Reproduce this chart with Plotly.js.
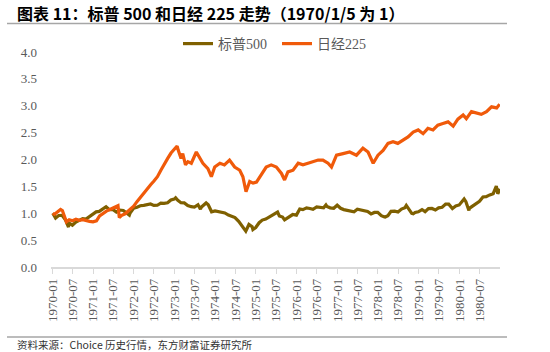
<!DOCTYPE html>
<html>
<head>
<meta charset="utf-8">
<script src="https://cdn.plot.ly/plotly-3.0.1.min.js"></script>
<style>html,body{margin:0;padding:0;background:#fff;}#chart{width:550px;height:352px;}</style>
</head>
<body>
<div id="chart"></div>
<script>
// ---- data ----
var seriesNames = ['标普500', '日经225'];

var spDates = ['1970-01-05','1970-01-30','1970-02-27','1970-03-31','1970-04-30','1970-05-26','1970-05-29','1970-06-30','1970-07-31','1970-08-31','1970-09-30','1970-10-30','1970-11-30','1970-12-31',
'1971-01-29','1971-02-26','1971-03-31','1971-04-28','1971-05-28','1971-06-30','1971-07-30','1971-08-31','1971-09-30','1971-10-29','1971-11-23','1971-11-30','1971-12-31',
'1972-01-31','1972-02-29','1972-03-31','1972-04-28','1972-05-31','1972-06-30','1972-07-31','1972-08-31','1972-09-29','1972-10-31','1972-11-30','1972-12-29',
'1973-01-11','1973-01-31','1973-02-28','1973-03-30','1973-04-30','1973-05-31','1973-06-29','1973-07-31','1973-08-22','1973-08-31','1973-09-28','1973-10-12','1973-10-31','1973-11-30','1973-12-31',
'1974-01-31','1974-02-28','1974-03-29','1974-04-30','1974-05-31','1974-06-28','1974-07-31','1974-08-30','1974-09-30','1974-10-03','1974-10-31','1974-11-29','1974-12-06','1974-12-31',
'1975-01-31','1975-02-28','1975-03-31','1975-04-30','1975-05-30','1975-06-30','1975-07-15','1975-07-31','1975-08-29','1975-09-16','1975-09-30','1975-10-31','1975-11-28','1975-12-31',
'1976-01-30','1976-02-27','1976-03-31','1976-04-30','1976-05-28','1976-06-30','1976-07-30','1976-08-31','1976-09-21','1976-09-30','1976-10-29','1976-11-30','1976-12-31',
'1977-01-31','1977-02-28','1977-03-31','1977-04-29','1977-05-31','1977-06-30','1977-07-29','1977-08-31','1977-09-30','1977-10-31','1977-11-30','1977-12-30',
'1978-01-31','1978-02-28','1978-03-06','1978-03-31','1978-04-28','1978-05-31','1978-06-30','1978-07-31','1978-08-31','1978-09-12','1978-09-29','1978-10-31','1978-11-14','1978-11-30','1978-12-29',
'1979-01-31','1979-02-28','1979-03-30','1979-04-30','1979-05-31','1979-06-29','1979-07-31','1979-08-31','1979-09-28','1979-10-31','1979-11-30','1979-12-31',
'1980-01-31','1980-02-13','1980-02-29','1980-03-27','1980-03-31','1980-04-30','1980-05-30','1980-06-30','1980-07-31','1980-08-29','1980-09-30','1980-10-31','1980-11-28','1980-12-11','1980-12-31'];
var spValues = [1.000,0.910,0.958,0.959,0.872,0.741,0.819,0.778,0.835,0.872,0.901,0.891,0.933,0.986,
1.026,1.035,1.073,1.121,1.066,1.067,1.023,1.060,1.052,1.008,0.965,1.006,1.092,
1.112,1.140,1.147,1.152,1.172,1.146,1.149,1.189,1.183,1.194,1.248,1.263,
1.287,1.241,1.195,1.193,1.145,1.123,1.116,1.158,1.076,1.115,1.160,1.192,1.159,1.027,1.044,
1.033,1.030,1.006,0.966,0.934,0.920,0.849,0.772,0.680,0.666,0.791,0.749,0.696,0.734,
0.824,0.873,0.892,0.934,0.975,1.019,1.023,0.950,0.930,0.878,0.897,0.953,0.976,0.965,
1.079,1.067,1.100,1.088,1.072,1.116,1.107,1.101,1.154,1.126,1.101,1.092,1.150,
1.092,1.068,1.053,1.053,1.028,1.075,1.058,1.035,1.033,0.988,1.015,1.018,
0.955,0.931,0.930,0.955,1.036,1.040,1.022,1.077,1.105,1.145,1.097,0.997,0.990,1.013,1.028,
1.069,1.030,1.087,1.089,1.060,1.101,1.111,1.170,1.170,1.089,1.136,1.155,
1.221,1.267,1.216,1.051,1.092,1.137,1.190,1.222,1.302,1.309,1.342,1.364,1.504,1.363,1.453];

var nkDates = ['1970-01-05','1970-01-20','1970-02-01','1970-02-22','1970-03-16','1970-04-01','1970-04-19','1970-05-07','1970-06-01','1970-07-01','1970-08-01','1970-09-01','1970-10-01','1970-11-01','1970-12-01',
'1971-01-01','1971-02-01','1971-03-01','1971-04-01','1971-05-01','1971-06-01','1971-07-01','1971-08-01','1971-08-13','1971-08-25','1971-09-16','1971-10-16','1971-12-01',
'1972-01-01','1972-02-01','1972-03-01','1972-04-01','1972-05-01','1972-06-01','1972-07-01','1972-08-01','1972-09-01','1972-10-01','1972-11-01','1972-12-01',
'1973-01-01','1973-01-25','1973-02-04','1973-03-01','1973-03-16','1973-04-10','1973-05-01','1973-06-01','1973-07-16','1973-08-16','1973-09-13','1973-10-28','1973-11-28','1973-12-28',
'1974-02-13','1974-03-25','1974-05-10','1974-06-25','1974-08-10','1974-09-07','1974-10-05','1974-11-07','1974-12-07',
'1975-01-07','1975-02-22','1975-04-04','1975-05-19','1975-07-04','1975-08-19','1975-09-16','1975-10-16','1975-12-01',
'1976-01-16','1976-02-28','1976-04-13','1976-05-28','1976-07-13','1976-08-25','1976-10-10','1976-11-10','1976-12-25',
'1977-02-22','1977-04-22','1977-06-22','1977-08-19','1977-10-04','1977-11-19',
'1978-01-01','1978-02-16','1978-04-01','1978-05-16','1978-06-28','1978-08-13','1978-09-28','1978-11-13','1978-12-28',
'1979-02-10','1979-03-25','1979-05-10','1979-06-22','1979-08-07','1979-09-22','1979-11-07','1979-12-19',
'1980-02-04','1980-03-04','1980-04-19','1980-06-04','1980-07-16','1980-09-01','1980-10-16','1980-12-01','1980-12-28'];
var nkValues = [1.00,0.98,1.00,1.04,1.07,1.05,0.92,0.84,0.88,0.86,0.89,0.87,0.88,0.86,0.85,
0.84,0.86,0.95,1.00,1.04,1.07,1.10,1.12,1.14,0.92,0.96,0.99,1.08,
1.13,1.22,1.30,1.38,1.46,1.53,1.60,1.68,1.80,1.92,2.02,2.12,
2.20,2.25,2.17,2.02,2.11,1.90,1.96,1.93,2.14,2.02,1.93,1.83,1.68,1.86,
1.93,1.90,1.99,1.86,1.80,1.68,1.40,1.59,1.56,
1.58,1.74,1.86,1.90,1.86,1.74,1.62,1.77,1.80,
1.93,1.90,1.93,1.96,1.99,1.99,1.93,1.86,2.08,
2.11,2.14,2.08,2.21,2.14,1.93,
2.08,2.17,2.30,2.33,2.30,2.36,2.42,2.51,2.55,
2.48,2.58,2.55,2.64,2.67,2.70,2.62,2.75,
2.83,2.76,2.89,2.86,2.84,2.89,2.98,2.96,3.03];

// ---- layout geometry (styles) ----
var W = 550, H = 352, ML = 51, MR = 50, MT = 52, MB = 85;
var PW = W - ML - MR, PH = H - MT - MB;
function px(x){ return (x - ML) / PW; }
function py(y){ return (H - MB - y) / PH; }

var serif = 'Liberation Serif, Times New Roman, Noto Sans CJK SC, serif';
var grey = '#595959';

var traces = [
  {x: spDates, y: spValues, name: seriesNames[0], type: 'scatter', mode: 'lines',
   line: {color: '#7F6000', width: 3.2}},
  {x: nkDates, y: nkValues, name: seriesNames[1], type: 'scatter', mode: 'lines',
   line: {color: '#F05A0A', width: 3.2}}
];

var layout = {
  width: W, height: H,
  margin: {l: ML, r: MR, t: MT, b: MB, pad: 0},
  paper_bgcolor: '#ffffff', plot_bgcolor: '#ffffff',
  title: {text: '图表 11：标普 500 和日经 225 走势（1970/1/5 为 1）',
          x: 17 / W, xanchor: 'left', xref: 'container',
          y: 1 - 14 / H, yanchor: 'middle', yref: 'container',
          font: {family: 'Noto Sans CJK SC, Liberation Sans, Arial, sans-serif', size: 16, color: '#000000', weight: 'bold'}},
  showlegend: true,
  legend: {orientation: 'h', x: px(178), xanchor: 'left', y: py(44), yanchor: 'middle',
           font: {family: serif, size: 14, color: grey}, bgcolor: 'rgba(0,0,0,0)',
           borderwidth: 0, itemwidth: 30, entrywidth: 54, entrywidthmode: 'pixels'},
  xaxis: {type: 'date', range: ['1969-12-20', '1980-12-31'],
          tick0: '1970-01-01', dtick: 'M6', tickformat: '%Y-%m', tickangle: -90,
          ticks: 'outside', ticklen: 5, tickwidth: 1, tickcolor: '#d9d9d9',
          showline: true, linecolor: '#d9d9d9', linewidth: 1.5,
          showgrid: false, zeroline: false,
          tickfont: {family: serif, size: 13, color: grey}},
  yaxis: {range: [0, 4], dtick: 0.5, tick0: 0, tickformat: '.1f',
          showline: false, showgrid: false, zeroline: false, ticks: '',
          ticklabelstandoff: 13,
          tickfont: {family: serif, size: 13, color: grey}},
  shapes: [
    {type: 'line', xref: 'paper', yref: 'paper', x0: px(7), x1: px(507), y0: py(23.5), y1: py(23.5),
     line: {color: '#a6a6a6', width: 1.5}},
    {type: 'line', xref: 'paper', yref: 'paper', x0: px(7), x1: px(507), y0: py(337), y1: py(337),
     line: {color: '#a6a6a6', width: 1.5}}
  ],
  annotations: [
    {text: '资料来源：Choice 历史行情，东方财富证券研究所', xref: 'paper', yref: 'paper',
     x: px(15), y: py(344), xanchor: 'left', yanchor: 'middle', showarrow: false,
     font: {family: 'Noto Sans CJK SC, Liberation Sans, sans-serif', size: 10.5, color: '#333333'}}
  ]
};

Plotly.newPlot('chart', traces, layout, {displayModeBar: false, staticPlot: true});
</script>
</body>
</html>
